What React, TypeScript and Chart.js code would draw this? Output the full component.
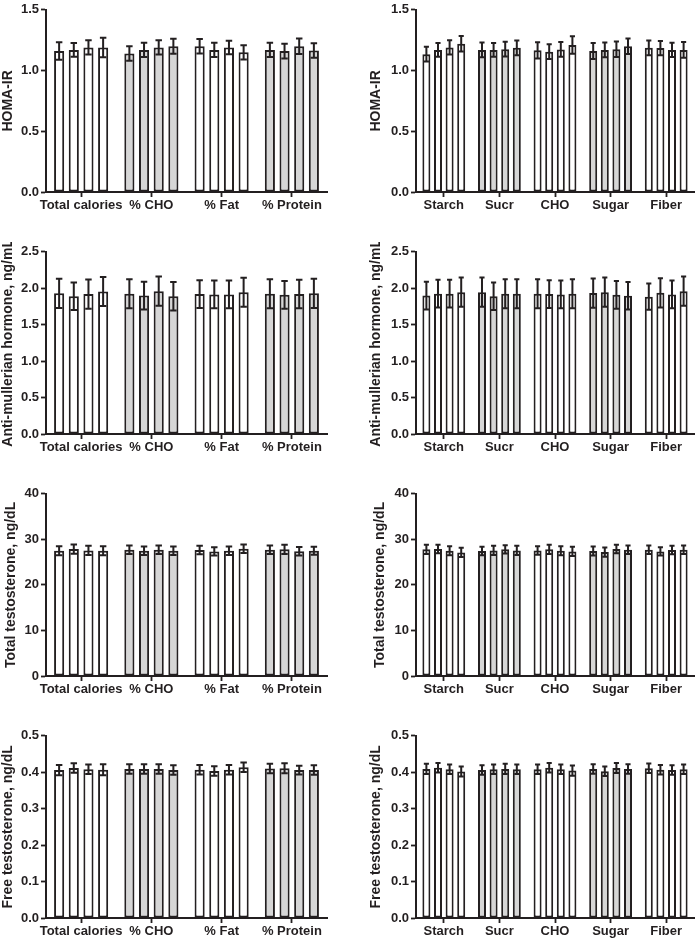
import React, { useEffect, useRef } from 'react';
import { Chart, registerables } from 'chart.js';

Chart.register(...registerables);

const FONT = "'Liberation Sans', Arial, Helvetica, sans-serif";
const INK = '#231f20';
const GREY = '#d6d6d6';
const WHITE = '#ffffff';

// ---- categories ----
const leftCategories = ['Total calories', '% CHO', '% Fat', '% Protein'];
const rightCategories = ['Starch', 'Sucr', 'CHO', 'Sugar', 'Fiber'];
const leftFills = [WHITE, GREY, WHITE, GREY];
const rightFills = [WHITE, GREY, WHITE, GREY, WHITE];

// ---- y-axis titles ----
const titleHoma = 'HOMA-IR';
const titleAmh = 'Anti-mullerian hormone, ng/mL';
const titleTT = 'Total testosterone, ng/dL';
const titleFT = 'Free testosterone, ng/dL';

// ---- values: one row per category, 4 quartile bars each ----
const homaLeftMeans = [
  [1.16, 1.17, 1.19, 1.19],
  [1.14, 1.17, 1.19, 1.2],
  [1.2, 1.17, 1.19, 1.15],
  [1.17, 1.16, 1.2, 1.165],
];
const homaLeftErrors = [
  [0.072, 0.056, 0.059, 0.08],
  [0.06, 0.058, 0.059, 0.062],
  [0.059, 0.058, 0.056, 0.059],
  [0.058, 0.06, 0.064, 0.059],
];
const homaRightMeans = [
  [1.135, 1.17, 1.19, 1.22],
  [1.17, 1.17, 1.176, 1.187],
  [1.166, 1.155, 1.174, 1.21],
  [1.16, 1.17, 1.176, 1.2],
  [1.187, 1.185, 1.17, 1.17],
];
const homaRightErrors = [
  [0.061, 0.056, 0.059, 0.064],
  [0.061, 0.056, 0.061, 0.061],
  [0.067, 0.061, 0.061, 0.072],
  [0.066, 0.061, 0.064, 0.064],
  [0.061, 0.059, 0.059, 0.064],
];

const amhLeftMeans = [
  [1.93, 1.89, 1.92, 1.955],
  [1.925, 1.9, 1.96, 1.89],
  [1.92, 1.915, 1.915, 1.945],
  [1.925, 1.91, 1.92, 1.93],
];
const amhLeftErrors = [
  [0.2, 0.19, 0.2, 0.2],
  [0.2, 0.19, 0.2, 0.195],
  [0.19, 0.19, 0.19, 0.2],
  [0.2, 0.19, 0.195, 0.2],
];
const amhRightMeans = [
  [1.9, 1.925, 1.925, 1.946],
  [1.946, 1.89, 1.925, 1.925],
  [1.925, 1.92, 1.915, 1.925],
  [1.933, 1.946, 1.91, 1.897],
  [1.884, 1.937, 1.915, 1.96],
];
const amhRightErrors = [
  [0.19, 0.19, 0.19, 0.2],
  [0.2, 0.19, 0.2, 0.2],
  [0.2, 0.19, 0.19, 0.2],
  [0.2, 0.2, 0.19, 0.19],
  [0.18, 0.2, 0.19, 0.2],
];

const ttLeftMeans = [
  [27.5, 27.86, 27.57, 27.5],
  [27.7, 27.5, 27.7, 27.5],
  [27.64, 27.36, 27.5, 27.93],
  [27.7, 27.8, 27.4, 27.5],
];
const ttLeftErrors = [
  [1.0, 1.0, 1.0, 1.0],
  [0.93, 0.93, 0.93, 0.93],
  [0.93, 0.93, 0.93, 0.93],
  [0.93, 1.0, 0.93, 0.86],
];
const ttRightMeans = [
  [27.8, 27.9, 27.5, 27.14],
  [27.43, 27.57, 27.8, 27.57],
  [27.57, 27.8, 27.5, 27.36],
  [27.43, 27.2, 27.9, 27.7],
  [27.7, 27.36, 27.64, 27.7],
];
const ttRightErrors = [
  [1.0, 0.93, 1.0, 1.0],
  [0.93, 1.0, 0.93, 1.0],
  [0.93, 1.0, 1.0, 1.0],
  [1.0, 1.0, 0.93, 0.93],
  [0.93, 0.93, 0.93, 0.93],
];

const ftLeftMeans = [
  [0.406, 0.4116, 0.408, 0.407],
  [0.409, 0.409, 0.409, 0.406],
  [0.407, 0.4036, 0.407, 0.414],
  [0.41, 0.411, 0.406, 0.406],
];
const ftLeftErrors = [
  [0.014, 0.013, 0.013, 0.015],
  [0.013, 0.013, 0.013, 0.013],
  [0.013, 0.013, 0.013, 0.013],
  [0.013, 0.014, 0.012, 0.013],
];
const ftRightMeans = [
  [0.409, 0.4125, 0.408, 0.402],
  [0.406, 0.408, 0.409, 0.408],
  [0.408, 0.4125, 0.408, 0.4045],
  [0.409, 0.4027, 0.4116, 0.409],
  [0.411, 0.407, 0.406, 0.408],
];
const ftRightErrors = [
  [0.014, 0.013, 0.013, 0.014],
  [0.013, 0.013, 0.014, 0.013],
  [0.013, 0.013, 0.013, 0.014],
  [0.013, 0.013, 0.014, 0.013],
  [0.013, 0.013, 0.013, 0.013],
];

const errorBarPlugin = {
  id: 'errorBars',
  afterDatasetsDraw(chart: any) {
    const { ctx } = chart;
    const yScale = chart.scales.y;
    chart.data.datasets.forEach((ds: any, di: number) => {
      const meta = chart.getDatasetMeta(di);
      meta.data.forEach((el: any, i: number) => {
        const v = ds.data[i];
        const e = ds.errors[i];
        const x = el.x;
        const top = yScale.getPixelForValue(v + e);
        const bot = yScale.getPixelForValue(v - e);
        const half = el.width * 0.32;
        ctx.save();
        ctx.strokeStyle = INK;
        ctx.lineWidth = 2;
        ctx.beginPath();
        ctx.moveTo(x, top);
        ctx.lineTo(x, bot);
        ctx.moveTo(x - half, top);
        ctx.lineTo(x + half, top);
        ctx.moveTo(x - half, bot);
        ctx.lineTo(x + half, bot);
        ctx.stroke();
        ctx.restore();
      });
    });
  },
};

type PanelProps = {
  left: number;
  top: number;
  categories: string[];
  means: number[][];
  errors: number[][];
  fills: string[];
  title: string;
  max: number;
  step: number;
  decimals: number;
  padLeft: number;
  axisWidth: number;
  padRight: number;
};

function Panel(p: PanelProps) {
  const ref = useRef<HTMLCanvasElement | null>(null);
  useEffect(() => {
    const datasets = [0, 1, 2, 3].map((q) => ({
      data: p.means.map((g) => g[q]),
      errors: p.errors.map((g) => g[q]),
      backgroundColor: p.fills,
      borderColor: INK,
      borderWidth: 2,
      borderSkipped: false,
      categoryPercentage: 0.835,
      barPercentage: 0.69,
    }));
    const tickFont = { family: FONT, size: 13, weight: 'bold' as const };
    const chart = new Chart(ref.current as HTMLCanvasElement, {
      type: 'bar',
      data: { labels: p.categories, datasets: datasets as any },
      options: {
        responsive: false,
        maintainAspectRatio: false,
        animation: false,
        layout: { padding: { top: 5, left: p.padLeft, right: p.padRight, bottom: 0 } },
        plugins: { legend: { display: false }, tooltip: { enabled: false } },
        scales: {
          x: {
            offset: true,
            grid: {
              display: true,
              drawOnChartArea: false,
              offset: false,
              tickLength: 5,
              tickColor: INK,
              tickWidth: 1.8,
            },
            border: { display: true, color: INK, width: 2 },
            ticks: {
              autoSkip: false,
              maxRotation: 0,
              minRotation: 0,
              color: INK,
              font: tickFont,
              padding: 1,
            },
            afterFit: (s: any) => {
              s.height = 20;
            },
          },
          y: {
            min: 0,
            max: p.max,
            ticks: {
              stepSize: p.step,
              color: INK,
              font: tickFont,
              padding: 2,
              callback: (v: any) => Number(v).toFixed(p.decimals),
            },
            grid: {
              display: true,
              drawOnChartArea: false,
              tickLength: 5,
              tickColor: INK,
              tickWidth: 1.8,
            },
            border: { display: true, color: INK, width: 2 },
            title: {
              display: true,
              text: p.title,
              color: INK,
              font: { family: FONT, size: 14, weight: 'bold' },
              padding: { top: 0, bottom: 0 },
            },
            afterFit: (s: any) => {
              s.width = p.axisWidth;
            },
          },
        },
      } as any,
      plugins: [errorBarPlugin],
    });
    return () => chart.destroy();
  }, []);
  return (
    <canvas
      ref={ref}
      width={349}
      height={212}
      style={{ position: 'absolute', left: p.left, top: p.top, width: 349, height: 212 }}
    />
  );
}

export default function App() {
  return (
    <div style={{ position: 'absolute', left: 0, top: 0, width: 698, height: 938, background: '#fff' }}>
      <Panel left={0} top={0} categories={leftCategories} means={homaLeftMeans} errors={homaLeftErrors} fills={leftFills} title={titleHoma} max={1.5} step={0.5} decimals={1} padLeft={0} axisWidth={46} padRight={22} />
      <Panel left={349} top={0} categories={rightCategories} means={homaRightMeans} errors={homaRightErrors} fills={rightFills} title={titleHoma} max={1.5} step={0.5} decimals={1} padLeft={19} axisWidth={48} padRight={4} />
      <Panel left={0} top={242} categories={leftCategories} means={amhLeftMeans} errors={amhLeftErrors} fills={leftFills} title={titleAmh} max={2.5} step={0.5} decimals={1} padLeft={0} axisWidth={46} padRight={22} />
      <Panel left={349} top={242} categories={rightCategories} means={amhRightMeans} errors={amhRightErrors} fills={rightFills} title={titleAmh} max={2.5} step={0.5} decimals={1} padLeft={19} axisWidth={48} padRight={4} />
      <Panel left={0} top={484} categories={leftCategories} means={ttLeftMeans} errors={ttLeftErrors} fills={leftFills} title={titleTT} max={40} step={10} decimals={0} padLeft={3} axisWidth={43} padRight={22} />
      <Panel left={349} top={484} categories={rightCategories} means={ttRightMeans} errors={ttRightErrors} fills={rightFills} title={titleTT} max={40} step={10} decimals={0} padLeft={23} axisWidth={44} padRight={4} />
      <Panel left={0} top={726} categories={leftCategories} means={ftLeftMeans} errors={ftLeftErrors} fills={leftFills} title={titleFT} max={0.5} step={0.1} decimals={1} padLeft={0} axisWidth={46} padRight={22} />
      <Panel left={349} top={726} categories={rightCategories} means={ftRightMeans} errors={ftRightErrors} fills={rightFills} title={titleFT} max={0.5} step={0.1} decimals={1} padLeft={19} axisWidth={48} padRight={4} />
    </div>
  );
}
